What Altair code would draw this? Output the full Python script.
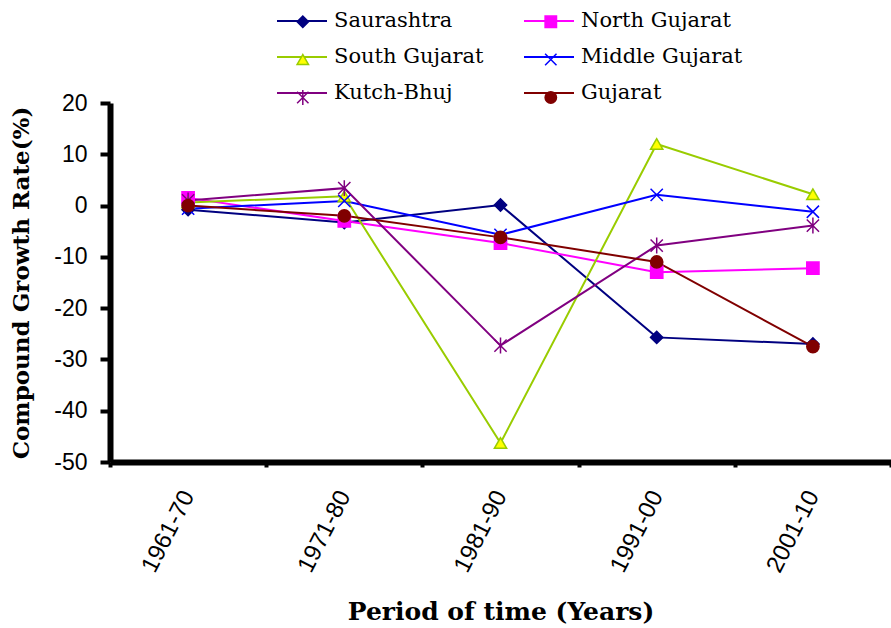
import altair as alt
import pandas as pd

# Decadal periods and regions
periods = ["1961-70", "1971-80", "1981-90", "1991-00", "2001-10"]
series = ["Saurashtra", "North Gujarat", "South Gujarat",
          "Middle Gujarat", "Kutch-Bhuj", "Gujarat"]

# Compound growth rate (%) per region and period
saurashtra = [-0.8, -3.3, 0.1, -25.7, -27.0]
north_gujarat = [1.5, -3.0, -7.3, -13.0, -12.2]
south_gujarat = [0.6, 1.8, -46.3, 12.0, 2.2]
middle_gujarat = [-0.6, 0.9, -5.7, 2.1, -1.2]
kutch_bhuj = [1.0, 3.4, -27.3, -7.8, -3.9]
gujarat = [0.0, -2.0, -6.2, -11.0, -27.5]

y_ticks = [-50, -40, -30, -20, -10, 0, 10, 20]

# Styling per series
line_colors = ["#000080", "#FF00FF", "#99CC00", "#0000FF", "#800080", "#800000"]
edge_colors = ["#000080", "#FF00FF", "#99CC00", "#0000FF", "#800080", "#800000"]
fill_colors = ["#000080", "#FF00FF", "#FFFF00", "#0000FF", "#800080", "#800000"]
shapes = [
    "diamond",
    "square",
    "triangle-up",
    "M-1,-1L1,1M-1,1L1,-1",
    "M-1,-1L1,1M-1,1L1,-1M0,-1.3L0,1.3",
    "circle",
]

rows = []
for name, vals in zip(series, [saurashtra, north_gujarat, south_gujarat,
                               middle_gujarat, kutch_bhuj, gujarat]):
    for p, v in zip(periods, vals):
        rows.append({"period": p, "value": v, "series": name})
df = pd.DataFrame(rows)

serif = "DejaVu Serif"
sans = "Liberation Sans"

base = alt.Chart(df).encode(
    x=alt.X(
        "period:N",
        sort=periods,
        bandPosition=0.5,
        scale=alt.Scale(type="band", paddingInner=0, paddingOuter=0),
        axis=alt.Axis(
            title="Period of time (Years)",
            titleFont=serif, titleFontSize=25, titleFontWeight="bold",
            titleColor="black", titlePadding=24,
            labelFont=sans, labelFontSize=24, labelColor="black",
            labelAngle=297, labelAlign="right", labelBaseline="middle",
            labelPadding=25,
            tickBand="extent", tickSize=5, tickWidth=4, tickColor="black",
            domainWidth=6, domainColor="black", grid=False,
        ),
    ),
    y=alt.Y(
        "value:Q",
        scale=alt.Scale(domain=[-50, 20], nice=False, zero=False),
        axis=alt.Axis(
            title="Compound Growth Rate(%)",
            titleFont=serif, titleFontSize=23, titleFontWeight="bold",
            titleColor="black", titlePadding=20,
            values=y_ticks, labelExpr="'' + datum.value",
            labelFont=sans, labelFontSize=23, labelColor="black",
            labelPadding=13,
            tickSize=10, tickWidth=4, tickColor="black",
            domainWidth=6, domainColor="black", grid=False,
        ),
    ),
)

legend_common = dict(
    title=None, orient="none", columns=2, direction="horizontal",
    labelFont=serif, labelFontSize=21, labelColor="black", labelLimit=400,
)

# Line-segment legend carries the labels
line_legend = alt.Legend(
    legendX=166, legendY=-108,
    symbolType="stroke", symbolSize=2500, symbolStrokeWidth=2,
    labelOffset=6, columnPadding=36, rowPadding=0,
    **legend_common,
)

# Marker legend (no labels) sits on top of the line segments
marker_legend = alt.Legend(
    legendX=182.3, legendY=-92,
    symbolSize=130, symbolStrokeWidth=1.5,
    labelExpr="''", labelOffset=0, columnPadding=227, rowPadding=16,
    zindex=2,
    **legend_common,
)

lines = base.mark_line(strokeWidth=2).encode(
    stroke=alt.Stroke("series:N", sort=series,
                      scale=alt.Scale(range=line_colors), legend=line_legend),
)

points = base.transform_calculate(marker="datum.series").mark_point(
    filled=False, size=150, strokeWidth=1.5, opacity=1
).encode(
    color=alt.Color("marker:N",
                    scale=alt.Scale(domain=series, range=edge_colors),
                    legend=marker_legend),
    fill=alt.Fill("marker:N",
                  scale=alt.Scale(domain=series, range=fill_colors),
                  legend=marker_legend),
    shape=alt.Shape("marker:N",
                    scale=alt.Scale(domain=series, range=shapes),
                    legend=marker_legend),
)

chart = alt.layer(lines, points).properties(
    width=781,
    height=359,
    autosize=alt.AutoSizeParams(type="none"),
    padding={"left": 110, "top": 103, "right": 0, "bottom": 166},
    background="white",
).configure_view(stroke=None)

chart.save("out.html", embed_options={"renderer": "svg", "actions": False})
